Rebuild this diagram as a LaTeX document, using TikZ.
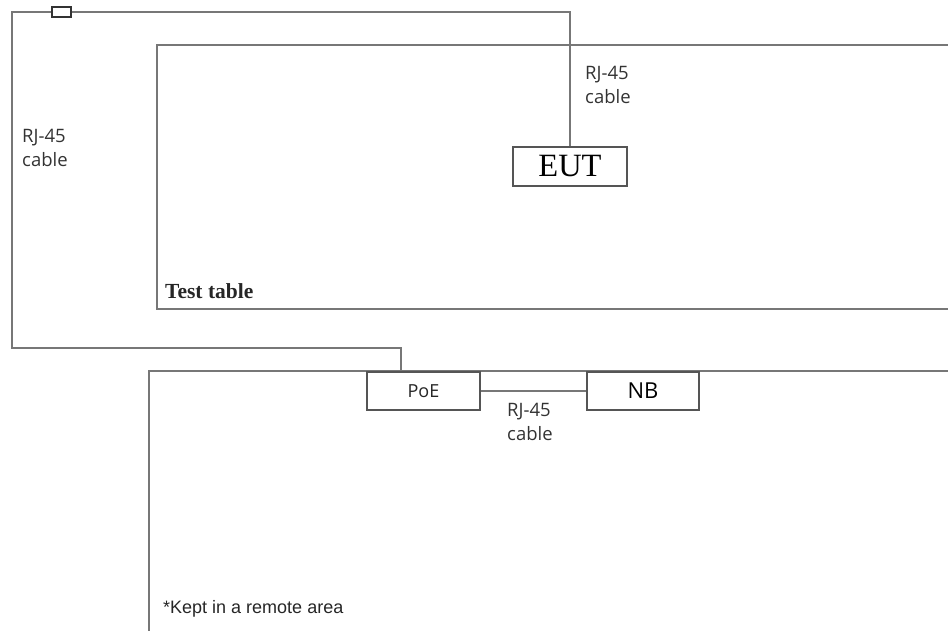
\documentclass[tikz,border=0pt]{standalone}
\usepackage{fontspec}
\setmainfont{Liberation Serif}
\newfontfamily\lblfont{Open Sans}
\newfontfamily\arialfont{Liberation Sans}
\usetikzlibrary{calc}
\definecolor{wirec}{HTML}{777777}
\definecolor{boxc}{HTML}{555555}
\tikzset{
  wire/.style={draw=wirec, line width=1.8pt},
  area/.style={draw=wirec, line width=1.8pt},
  devbox/.style={draw=boxc, line width=1.3pt, fill=white, inner sep=0pt},
  lbl/.style={font=\lblfont\fontsize{18.5}{24}\selectfont, text=black!80, align=left, inner sep=0pt},
}
\begin{document}
\begin{tikzpicture}[x=1pt,y=-1pt]
\useasboundingbox (0,0) rectangle (948,630);
\clip (0,0) rectangle (948,630);
% areas
\draw[area] (1000,45) -- (157,45) -- (157,309) -- (1000,309);
\draw[area] (1000,371) -- (149,371) -- (149,700);
% devices
\node[devbox, minimum width=114pt, minimum height=39pt, font=\fontsize{32.5}{32.5}\selectfont] (eut) at (570,166.5) {EUT};
\node[devbox, minimum width=113pt, minimum height=38pt, font=\lblfont\fontsize{18}{18}\selectfont, text=black!85] (poe) at (423.5,391) {PoE};
\node[devbox, minimum width=112pt, minimum height=38pt, font=\lblfont\fontsize{22}{22}\selectfont] (nb) at (643,391) {NB};
% cables
\coordinate (poetap) at ($(poe.north west)!0.3!(poe.north east)$);
\draw[wire] (eut.north) |- (12,12) |- (poetap |- 0,348) -- (poetap);
\draw[wire] (poe.east) -- (nb.west);
\node[draw=black!80, line width=1.2pt, fill=white, minimum width=19pt, minimum height=10pt, inner sep=0pt] (conn) at (61.5,12) {};
% labels
\node[lbl, anchor=north west] (l1) at (22,129) {RJ-45\\cable};
\node[lbl, anchor=north west] (l2) at (585,66) {RJ-45\\cable};
\node[lbl, anchor=north west] (l3) at (507,403) {RJ-45\\cable};
\node[anchor=base west, font=\bfseries\fontsize{21.5}{21.5}\selectfont, text=black!85, inner sep=0pt] (tt) at (165,298) {Test table};
\node[anchor=base west, font=\arialfont\fontsize{18}{18}\selectfont, text=black!85, inner sep=0pt] (ra) at (163,613) {*Kept in a remote area};
\end{tikzpicture}
\end{document}
